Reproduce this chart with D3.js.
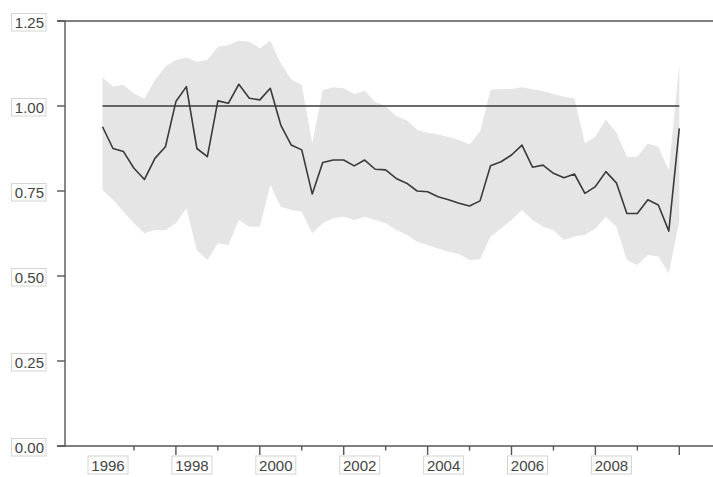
<!DOCTYPE html>
<html>
<head>
<meta charset="utf-8">
<script src="https://cdn.jsdelivr.net/npm/d3@7"></script>
<style>
body { margin: 0; background: white; }
svg { display: block; font-family: "Liberation Sans", Arial, sans-serif; }
</style>
</head>
<body>
<svg width="713" height="477"></svg>
<script>
// quarterly observations, 1996Q2 .. 2010Q1
let debut = 1996.25;
let periodes = d3.range(56).map(i => debut + i * 0.25);

let estimation = [0.939, 0.875, 0.866, 0.817, 0.784, 0.846, 0.880, 1.013, 1.057, 0.875,
    0.851, 1.015, 1.008, 1.064, 1.023, 1.018, 1.052, 0.944, 0.885, 0.871,
    0.741, 0.834, 0.841, 0.841, 0.824, 0.841, 0.814, 0.812, 0.787, 0.773,
    0.750, 0.748, 0.733, 0.724, 0.714, 0.706, 0.721, 0.824, 0.836, 0.856,
    0.885, 0.820, 0.826, 0.802, 0.789, 0.800, 0.743, 0.763, 0.807, 0.774,
    0.684, 0.684, 0.724, 0.709, 0.632, 0.934];

let borneHaute = [1.084, 1.057, 1.062, 1.037, 1.021, 1.076, 1.116, 1.135, 1.143, 1.130,
    1.135, 1.174, 1.179, 1.192, 1.189, 1.170, 1.192, 1.126, 1.078, 1.062,
    0.890, 1.047, 1.055, 1.052, 1.035, 1.045, 1.012, 1.000, 0.970, 0.958,
    0.930, 0.921, 0.916, 0.909, 0.899, 0.887, 0.925, 1.047, 1.050, 1.050,
    1.055, 1.049, 1.044, 1.035, 1.027, 1.022, 0.890, 0.910, 0.960, 0.922,
    0.851, 0.851, 0.890, 0.880, 0.812, 1.121];

let borneBasse = [0.753, 0.724, 0.689, 0.655, 0.626, 0.635, 0.635, 0.655, 0.699, 0.576,
    0.547, 0.596, 0.591, 0.665, 0.645, 0.645, 0.768, 0.704, 0.694, 0.689,
    0.626, 0.655, 0.670, 0.674, 0.665, 0.674, 0.665, 0.655, 0.635, 0.621,
    0.601, 0.591, 0.581, 0.571, 0.565, 0.547, 0.549, 0.616, 0.640, 0.665,
    0.694, 0.665, 0.645, 0.635, 0.606, 0.616, 0.621, 0.640, 0.674, 0.645,
    0.547, 0.532, 0.562, 0.557, 0.508, 0.660];

let reference = 1.0;
let yTicks = [0, 0.25, 0.5, 0.75, 1.0, 1.25];
let anneesLabels = [1996, 1998, 2000, 2002, 2004, 2006, 2008];
let anneesTicks = d3.range(1997, 2011);

let svg = d3.select("svg");

let x = d3.scaleLinear().domain([1996.25, 2010]).range([102.5, 679.3]);
let y = d3.scaleLinear().domain([0, 1.25]).range([446, 21]);

let donnees = periodes.map((t, i) => ({ t: t, v: estimation[i], h: borneHaute[i], b: borneBasse[i] }));

// bande grise
svg.append("path")
    .datum(donnees)
    .attr("fill", "#e5e5e5")
    .attr("d", d3.area().x(d => x(d.t)).y0(d => y(d.b)).y1(d => y(d.h)));

// ligne de reference a 1
svg.append("line")
    .attr("x1", x(periodes[0])).attr("x2", x(periodes[periodes.length - 1]))
    .attr("y1", y(reference)).attr("y2", y(reference))
    .attr("stroke", "#3a3a3a").attr("stroke-width", 1.4);

// serie
svg.append("path")
    .datum(donnees)
    .attr("fill", "none")
    .attr("stroke", "#3a3a3a")
    .attr("stroke-width", 1.6)
    .attr("stroke-linejoin", "round")
    .attr("d", d3.line().x(d => x(d.t)).y(d => y(d.v)));

// cadre: axe gauche, haut et bas
let couleurAxe = "#555";
svg.append("line").attr("x1", 65).attr("x2", 65).attr("y1", y(1.25)).attr("y2", y(0))
    .attr("stroke", couleurAxe).attr("stroke-width", 1.4);
svg.append("line").attr("x1", 57).attr("x2", 713).attr("y1", y(1.25)).attr("y2", y(1.25))
    .attr("stroke", couleurAxe).attr("stroke-width", 1.4);
svg.append("line").attr("x1", 57).attr("x2", 713).attr("y1", y(0)).attr("y2", y(0))
    .attr("stroke", couleurAxe).attr("stroke-width", 1.4);

// axe y: graduations et etiquettes encadrees
let gy = svg.append("g");
gy.selectAll("line.tick").data(yTicks).enter().append("line")
    .attr("class", "tick")
    .attr("x1", 57).attr("x2", 65)
    .attr("y1", d => y(d)).attr("y2", d => y(d))
    .attr("stroke", couleurAxe).attr("stroke-width", 1.4);
gy.selectAll("rect").data(yTicks).enter().append("rect")
    .attr("x", 11.5).attr("y", d => y(d) - 7.5)
    .attr("width", 34.5).attr("height", 17.5)
    .attr("fill", "white").attr("stroke", "#d4d4d4").attr("stroke-width", 1);
gy.selectAll("text").data(yTicks).enter().append("text")
    .attr("x", 44).attr("y", d => y(d) + 6.5)
    .attr("text-anchor", "end")
    .attr("font-size", 15)
    .attr("fill", "#444")
    .text(d => d3.format(".2f")(d));

// axe x: graduations annuelles (longues les annees paires)
let gx = svg.append("g");
gx.selectAll("line").data(anneesTicks).enter().append("line")
    .attr("x1", d => x(d)).attr("x2", d => x(d))
    .attr("y1", y(0)).attr("y2", d => y(0) + (d % 2 == 0 ? 9 : 4.5))
    .attr("stroke", couleurAxe).attr("stroke-width", 1.4);
gx.selectAll("rect").data(anneesLabels).enter().append("rect")
    .attr("x", d => x(d) - 4).attr("y", 456)
    .attr("width", 40).attr("height", 18)
    .attr("fill", "white").attr("stroke", "#d4d4d4").attr("stroke-width", 1);
gx.selectAll("text").data(anneesLabels).enter().append("text")
    .attr("x", d => x(d) + 16) .attr("y", 471)
    .attr("text-anchor", "middle")
    .attr("font-size", 15)
    .attr("fill", "#444")
    .text(d => d);
</script>
</body>
</html>
